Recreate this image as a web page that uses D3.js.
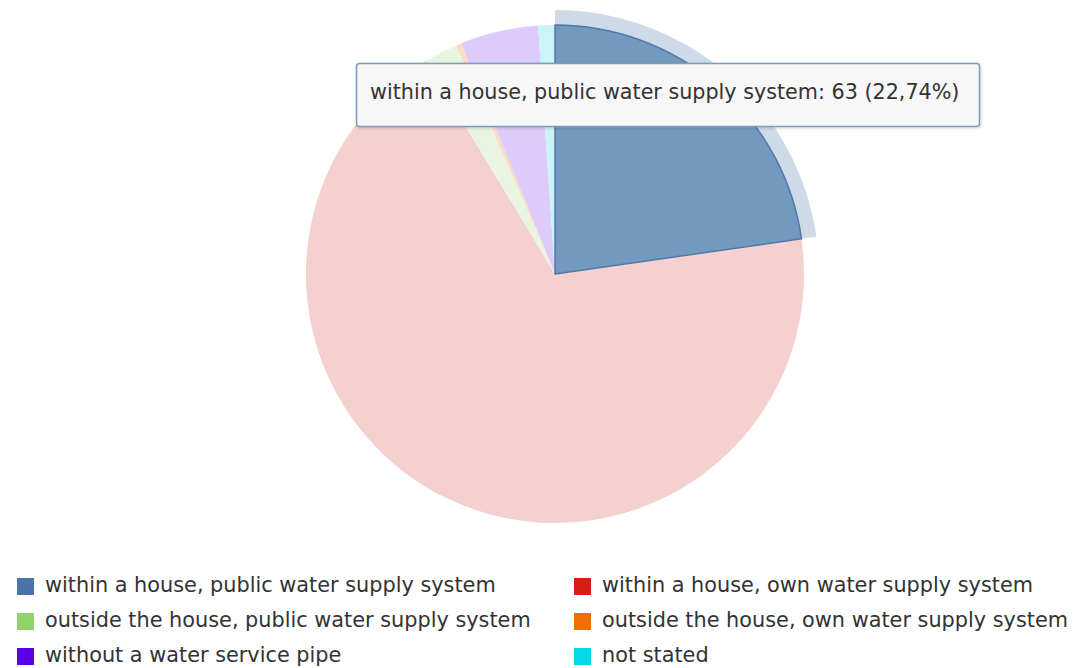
<!DOCTYPE html>
<html><head><meta charset="utf-8">
<script src="https://cdn.jsdelivr.net/npm/d3@7"></script>
<style>body{margin:0;background:#fff}svg{display:block}</style>
</head><body>
<svg id="c" width="1077" height="668"></svg>
<script>
const categories = ["within a house, public water supply system","within a house, own water supply system","outside the house, public water supply system","outside the house, own water supply system","without a water service pipe","not stated"];
const values = [63,190,6,1,14,3];
const colors = ["#4A74A8","#D41F12","#8FD46A","#EE7000","#5A00E6","#00D9E9"];
const fadedColors = ["#7399BF","#F4D0CE","#E9F5E0","#FBDCC3","#DDCCFA","#CBF4F8"];
const activeIndex = 0;

const svg = d3.select("#c");
const cx = 555, cy = 274, R = 249;
const total = d3.sum(values);
const pie = d3.pie().sort(null).value(d=>d)(values);
const arc = d3.arc().innerRadius(0).outerRadius(R);
const g = svg.append("g").attr("transform",`translate(${cx},${cy})`);

// halo
const a0 = pie[activeIndex];
g.append("path").attr("d", d3.arc().innerRadius(R).outerRadius(R+15)(a0)).attr("fill","#C9D6E5").attr("opacity",0.9);

g.selectAll("path.s").data(pie).enter().append("path").attr("class","s")
  .attr("d",arc).attr("fill",(d,i)=>fadedColors[i])
  .attr("stroke",(d,i)=>i===activeIndex?"#4F78A8":"none").attr("stroke-width",1.5).attr("stroke-linejoin","round");
g.selectAll("path.s").filter((d,i)=>i===activeIndex).raise();

// tooltip
const pct = (values[activeIndex]/total*100).toFixed(2).replace(".",",");
const tipText = `${categories[activeIndex]}: ${values[activeIndex]} (${pct}%)`;
const tip = svg.append("g");
const defs = svg.append("defs");
const f = defs.append("filter").attr("id","sh").attr("x","-10%").attr("y","-20%").attr("width","120%").attr("height","160%");
f.append("feDropShadow").attr("dx",1).attr("dy",1).attr("stdDeviation",1.5).attr("flood-color","#000").attr("flood-opacity",0.18);
tip.append("rect").attr("x",356.5).attr("y",63.5).attr("width",623).attr("height",63).attr("rx",3)
  .attr("fill","#F7F7F7").attr("stroke","#7A9BC2").attr("stroke-width",1.5).attr("filter","url(#sh)");
const tt = tip.append("text").attr("x",370).attr("y",99).attr("fill","#333")
  .style("font-family","DejaVu Sans, sans-serif").style("font-size","17px").text(tipText);
const tw = tt.node().getComputedTextLength();
tt.style("font-size",(17*590/tw)+"px");

// legend
const leg = svg.append("g").style("font-family","DejaVu Sans, sans-serif");
categories.forEach((c,i)=>{
  const col = i%2, row = Math.floor(i/2);
  const x = col===0 ? 17 : 574, y = 578 + row*35;
  leg.append("rect").attr("x",x).attr("y",y).attr("width",17).attr("height",17).attr("fill",colors[i]);
  leg.append("text").attr("x",col===0?45:602).attr("y",y+14).attr("fill","#333").style("font-size","18px").text(c);
});
const t0 = leg.select("text").node().getComputedTextLength();
leg.selectAll("text").style("font-size",(18*451/t0)+"px");
</script>
</body></html>
